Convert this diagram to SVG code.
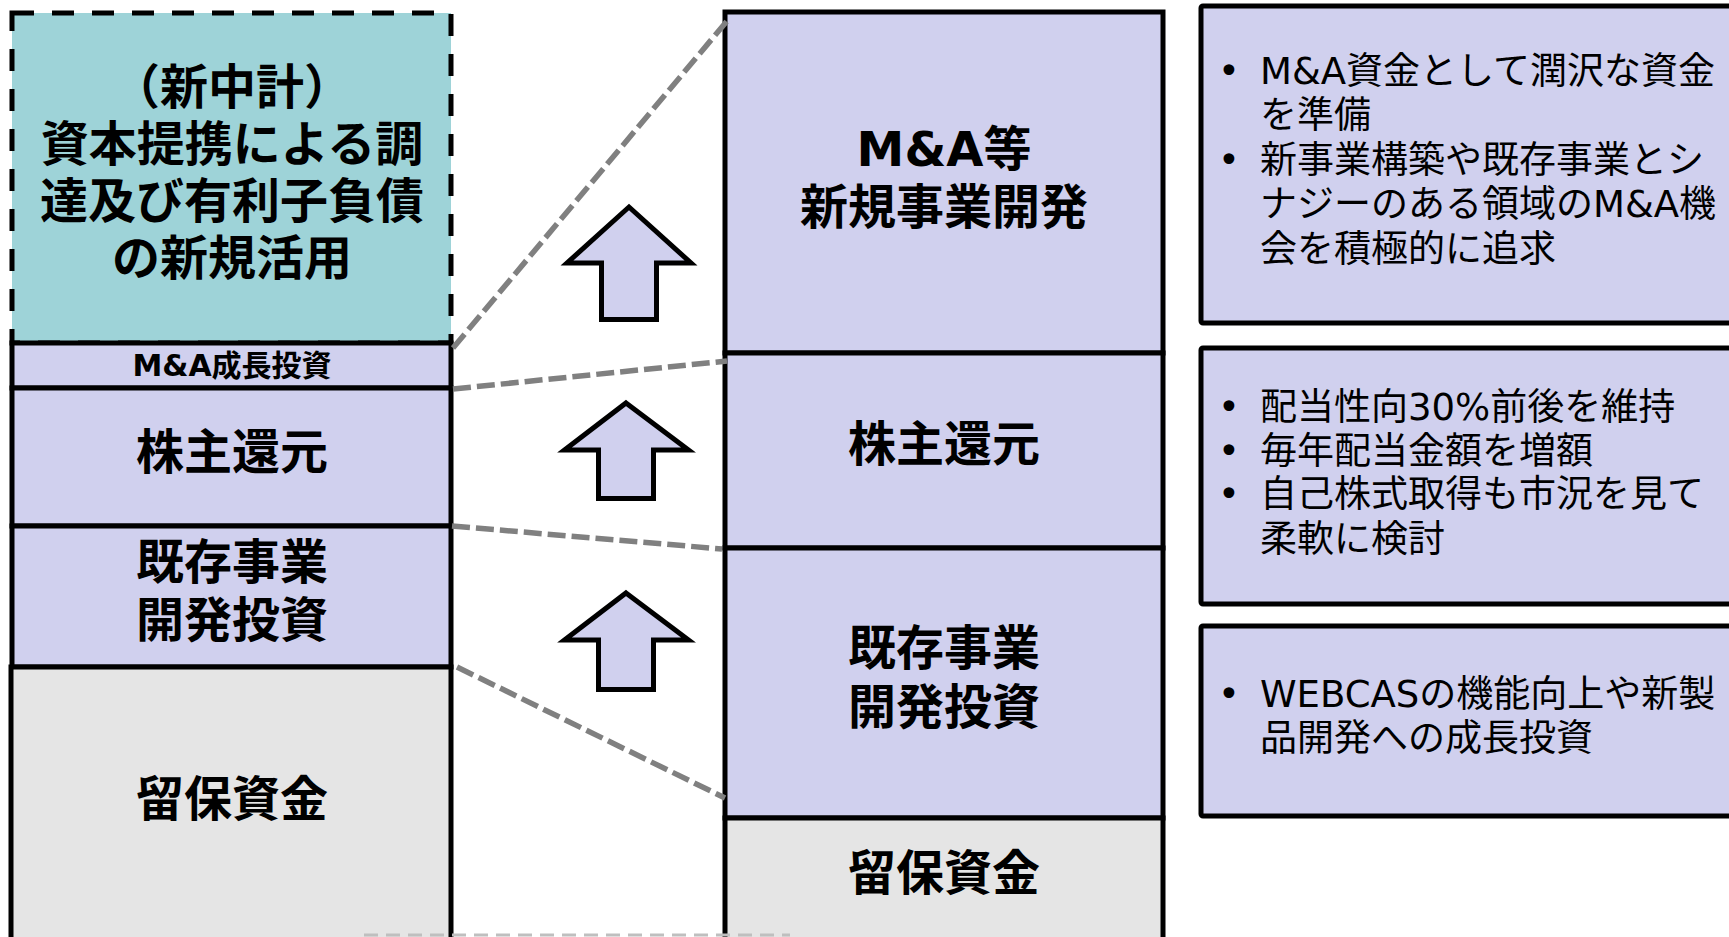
<svg xmlns="http://www.w3.org/2000/svg" width="1729" height="937" viewBox="0 0 1729 937">
<style>
.lav{fill:#D0D0EE;stroke:#000;stroke-width:5}
.gry{fill:#E5E5E5;stroke:#000;stroke-width:5}
.teal{fill:#9ED3D8;stroke:#000;stroke-width:5;stroke-dasharray:22 18}
.box{fill:#D0D0EE;stroke:#000;stroke-width:5;stroke-linejoin:round}
.lbl{font-family:"DejaVu Sans","Noto Sans CJK JP",sans-serif;font-weight:bold;font-size:48px;text-anchor:middle;fill:#000}
.sm{font-size:30px}
.body{font-family:"DejaVu Sans","Noto Sans CJK JP",sans-serif;font-size:37px;fill:#000}
.bul{text-anchor:middle}
.conn{stroke:#808080;stroke-width:5.5;stroke-dasharray:18 6;fill:none}
.arrow{fill:#D0D0EE;stroke:#000;stroke-width:5;stroke-linejoin:miter}
</style>

<!-- left column -->
<g id="left-new-plan">
<rect class="teal" x="12" y="13" width="439" height="330"/>
<text class="lbl" x="232" y="104">（新中計）</text>
<text class="lbl" x="232" y="161">資本提携による調</text>
<text class="lbl" x="232" y="218">達及び有利子負債</text>
<text class="lbl" x="232" y="275">の新規活用</text>
</g>
<g id="left-ma">
<rect class="lav" x="12" y="343" width="439" height="45"/>
<text class="lbl sm" x="232" y="376">M&amp;A成長投資</text>
</g>
<g id="left-shareholder">
<rect class="lav" x="12" y="388" width="439" height="138"/>
<text class="lbl" x="232" y="469">株主還元</text>
</g>
<g id="left-existing">
<rect class="lav" x="12" y="526" width="439" height="141"/>
<text class="lbl" x="232" y="579">既存事業</text>
<text class="lbl" x="232" y="637">開発投資</text>
</g>
<g id="left-retained">
<rect class="gry" x="11" y="667" width="440" height="300"/>
<text class="lbl" x="232" y="816">留保資金</text>
</g>

<!-- right column -->
<g id="right-ma">
<rect class="lav" x="725" y="12" width="438" height="341"/>
<text class="lbl" x="944" y="166">M&amp;A等</text>
<text class="lbl" x="944" y="224">新規事業開発</text>
</g>
<g id="right-shareholder">
<rect class="lav" x="725" y="353" width="438" height="195"/>
<text class="lbl" x="944" y="461">株主還元</text>
</g>
<g id="right-existing">
<rect class="lav" x="725" y="548" width="438" height="270"/>
<text class="lbl" x="944" y="665">既存事業</text>
<text class="lbl" x="944" y="724">開発投資</text>
</g>
<g id="right-retained">
<rect class="gry" x="725" y="818" width="438" height="150"/>
<text class="lbl" x="944" y="890">留保資金</text>
</g>

<!-- arrows -->
<g id="arrow-1"><polygon class="arrow" points="629,207 691,263 656.5,263 656.5,319.5 601.5,319.5 601.5,263 567,263"/></g>
<g id="arrow-2"><polygon class="arrow" points="626,403 688.5,450 653.5,450 653.5,498.5 598.5,498.5 598.5,450 564.5,450"/></g>
<g id="arrow-3"><polygon class="arrow" points="626,593 688.5,640 653.5,640 653.5,689.5 598.5,689.5 598.5,640 564.5,640"/></g>

<!-- connectors -->
<g id="connectors">
<line class="conn" x1="453" y1="348" x2="727" y2="21"/>
<line class="conn" x1="453" y1="389" x2="727" y2="361"/>
<line class="conn" x1="452" y1="526" x2="722" y2="549"/>
<line class="conn" x1="457" y1="667" x2="725" y2="798"/>
</g>

<g id="bottom-edge">
<line x1="364" y1="935" x2="790" y2="935" stroke="#BFBFBF" stroke-width="3" stroke-dasharray="14 8"/>
</g>

<!-- right text boxes -->
<g id="note-ma">
<rect class="box" x="1201" y="6" width="560" height="317" rx="2"/>
<text class="body bul" x="1229" y="83.5">•</text>
<text class="body" x="1260" y="83.5">M&amp;A資金として潤沢な資金</text>
<text class="body" x="1260" y="128">を準備</text>
<text class="body bul" x="1229" y="172.5">•</text>
<text class="body" x="1260" y="172.5">新事業構築や既存事業とシ</text>
<text class="body" x="1260" y="217">ナジーのある領域のM&amp;A機</text>
<text class="body" x="1260" y="261.5">会を積極的に追求</text>
</g>
<g id="note-shareholder">
<rect class="box" x="1201" y="348" width="560" height="256" rx="2"/>
<text class="body bul" x="1229" y="420">•</text>
<text class="body" x="1260" y="420">配当性向30%前後を維持</text>
<text class="body bul" x="1229" y="463.5">•</text>
<text class="body" x="1260" y="463.5">毎年配当金額を増額</text>
<text class="body bul" x="1229" y="507">•</text>
<text class="body" x="1260" y="507">自己株式取得も市況を見て</text>
<text class="body" x="1260" y="551.5">柔軟に検討</text>
</g>
<g id="note-existing">
<rect class="box" x="1201" y="626" width="560" height="190" rx="2"/>
<text class="body bul" x="1229" y="706.5">•</text>
<text class="body" x="1260" y="706.5">WEBCASの機能向上や新製</text>
<text class="body" x="1260" y="751">品開発への成長投資</text>
</g>
</svg>
